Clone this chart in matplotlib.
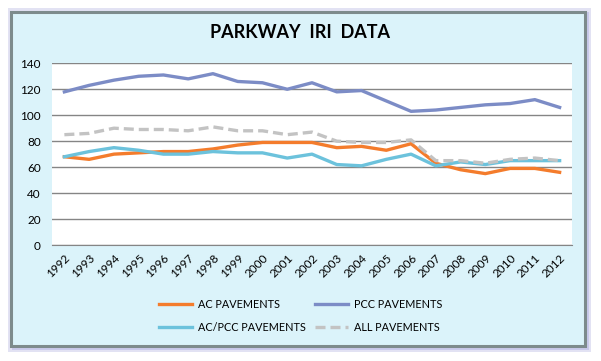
import numpy as np
import matplotlib
matplotlib.use("Agg")
import matplotlib.pyplot as plt
from matplotlib.patches import Rectangle

# dati
years = [str(y) for y in range(1992, 2013)]
ac = [68, 66, 70, 71, 72, 72, 74, 77, 79, 79, 79, 75, 76, 73, 78, 63, 58, 55, 59, 59, 56]
pcc = [118, 123, 127, 130, 131, 128, 132, 126, 125, 120, 125, 118, 119, 111, 103, 104, 106, 108, 109, 112, 106]
ac_pcc = [68, 72, 75, 73, 70, 70, 72, 71, 71, 67, 70, 62, 61, 66, 70, 61, 64, 62, 65, 65, 65]
all_pav = [85, 86, 90, 89, 89, 88, 91, 88, 88, 85, 87, 80, 79, 79, 81, 65, 65, 63, 66, 67, 65]

plt.rcParams['font.family'] = ['Lato', 'DejaVu Sans']

W, H = 601, 361
fig = plt.figure(figsize=(W / 100, H / 100), dpi=100)
fig.patch.set_facecolor('white')

def px_rect(x0, y0, x1, y1, **kw):
    # rettangolo in pixel (origine in alto a sinistra)
    return Rectangle((x0 / W, 1 - y1 / H), (x1 - x0) / W, (y1 - y0) / H,
                     transform=fig.transFigure, **kw)

# ombra e cornice
fig.patches.append(px_rect(8, 8, 591, 352, facecolor='#e2e2f3', edgecolor='none', zorder=-3))
fig.patches.append(px_rect(12, 12, 589, 350, facecolor='#c9c9ea', edgecolor='none', zorder=-2))
fig.patches.append(px_rect(11, 12, 585, 346, facecolor='#dbf3fa', edgecolor='#7d8b8c',
                           linewidth=2.2, zorder=-1))

ax = fig.add_axes([52 / W, 1 - 245 / H, (572 - 52) / W, (245 - 63.3) / H])
ax.set_facecolor('white')
x = np.arange(len(years))

l_ac, = ax.plot(x, ac, color='#f47c2c', lw=2.4, label='AC PAVEMENTS')
l_pcc, = ax.plot(x, pcc, color='#7c8cc6', lw=2.4, label='PCC PAVEMENTS')
l_acp, = ax.plot(x, ac_pcc, color='#6cc2dc', lw=2.4, label='AC/PCC PAVEMENTS')
l_all, = ax.plot(x, all_pav, color='#c3c3c3', lw=2.4, ls=(0, (3, 1.5)), label='ALL PAVEMENTS')

ax.set_xlim(-0.5, len(years) - 0.5)
ax.set_ylim(0, 140)
ax.set_yticks(range(0, 141, 20))
ax.set_xticks(x)
ax.set_xticklabels(years, rotation=45, ha='right', rotation_mode='anchor', fontsize=8.5)
ax.tick_params(axis='y', labelsize=8.5, length=0, pad=8)
ax.tick_params(axis='x', length=0, pad=5)
ax.grid(axis='y', color='#858585', lw=1)
ax.set_axisbelow(True)
for s in ['top', 'right', 'left']:
    ax.spines[s].set_visible(False)
ax.spines['bottom'].set_color('#858585')

fig.text(0.5, 1 - 32 / H, 'PARKWAY  IRI  DATA', ha='center', va='center',
         fontsize=13, fontweight='bold')

fig.legend([l_ac, l_acp, l_pcc, l_all],
           [h.get_label() for h in [l_ac, l_acp, l_pcc, l_all]],
           ncol=2, loc='center', bbox_to_anchor=(0.5, 1 - 316 / H),
           frameon=False, fontsize=7.8, handlelength=3.0, columnspacing=0.9,
           labelspacing=1.1, handletextpad=0.55)

fig.savefig('out.png', dpi=100, facecolor=fig.get_facecolor())
